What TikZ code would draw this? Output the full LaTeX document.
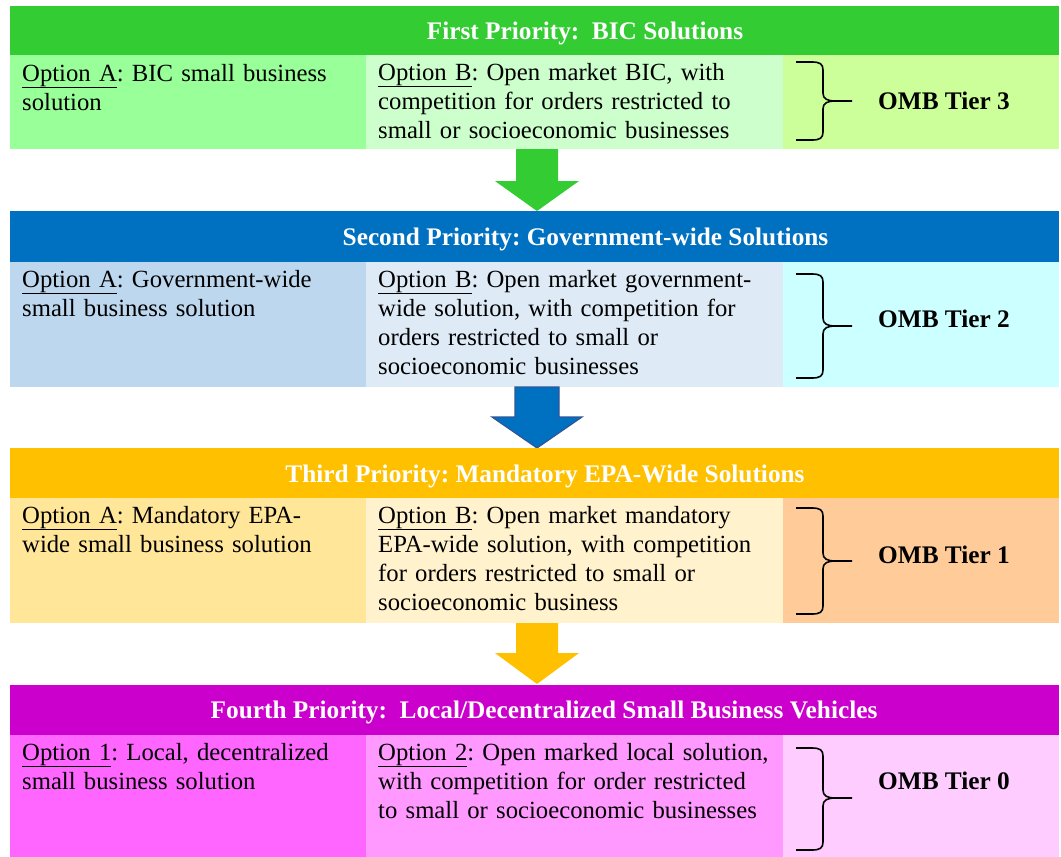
\documentclass[tikz,border=0pt]{standalone}
\usepackage{fontspec}
\setmainfont{Liberation Serif}
\frenchspacing
\definecolor{hA}{HTML}{33CC33}\definecolor{lA}{HTML}{99FF99}\definecolor{mA}{HTML}{CCFFCC}\definecolor{rA}{HTML}{CCFF99}
\definecolor{hB}{HTML}{0070C0}\definecolor{lB}{HTML}{BDD7EE}\definecolor{mB}{HTML}{DEEBF7}\definecolor{rB}{HTML}{CCFFFF}
\definecolor{hC}{HTML}{FFC000}\definecolor{lC}{HTML}{FFE699}\definecolor{mC}{HTML}{FFF2CC}\definecolor{rC}{HTML}{FFCC99}
\definecolor{hD}{HTML}{CC00CC}\definecolor{lD}{HTML}{FF66FF}\definecolor{mD}{HTML}{FF99FF}\definecolor{rD}{HTML}{FFCCFF}
\definecolor{arrB}{HTML}{2F5597}
\newcommand\mybrace[3]{%
  \draw[bracestyle] (796,#1) -- (812,#1) .. controls (820,#1) and (823,#1+2) .. (823,#1+8) -- (823,#3-8) .. controls (823,#3-2) and (827,#3) .. (836,#3) -- (852,#3);
  \draw[bracestyle] (836,#3) .. controls (827,#3) and (823,#3+2) .. (823,#3+8) -- (823,#2-8) .. controls (823,#2-2) and (820,#2) .. (812,#2) -- (796,#2);}
\newcommand\opt[1]{\underline{#1}}
\tikzset{
  head/.style={text=white, font=\fontsize{25.3}{29}\selectfont\bfseries, anchor=base, inner sep=0pt},
  body/.style={font=\fontsize{24.7}{29}\selectfont, anchor=base west, inner sep=0pt, align=left, text width=470pt},
  tier/.style={font=\fontsize{25.3}{29}\selectfont\bfseries, anchor=base west, inner sep=0pt},
  bracestyle/.style={line width=1.6pt, black},
}
\begin{document}
\begin{tikzpicture}[x=1pt,y=-1pt]
\useasboundingbox (0,0) rectangle (1061,857);
% Block 1
\fill[hA] (10,6) rectangle (1059,55);
\fill[lA] (10,55) rectangle (366,149);
\fill[mA] (366,55) rectangle (783,149);
\fill[rA] (783,55) rectangle (1059,149);
\node[head] (h1) at (585,39) {First Priority:\ \ BIC Solutions};
\node[body] (a1) at (22,81) {\opt{Option A}: BIC small business\\solution};
\node[body] (b1) at (378,80) {\opt{Option B}: Open market BIC, with\\competition for orders restricted to\\small or socioeconomic businesses};
\mybrace{62}{140}{101}
\node[tier] (t1) at (878,109) {OMB Tier 3};
% Arrow 1
\fill[hA] (516,149) -- (558,149) -- (558,181) -- (579,181) -- (537,211) -- (495,181) -- (516,181) -- cycle;
% Block 2
\fill[hB] (10,211) rectangle (1059,262);
\fill[lB] (10,262) rectangle (366,387);
\fill[mB] (366,262) rectangle (783,387);
\fill[rB] (783,262) rectangle (1059,387);
\node[head] (h2) at (585.5,245) {Second Priority: Government-wide Solutions};
\node[body] (a2) at (22,287) {\opt{Option A}: Government-wide\\small business solution};
\node[body] (b2) at (378,287) {\opt{Option B}: Open market government-\\wide solution, with competition for\\orders restricted to small or\\socioeconomic businesses};
\mybrace{274}{378}{326}
\node[tier] (t2) at (878,327) {OMB Tier 2};
% Arrow 2
\filldraw[fill=hB, draw=arrB, line width=1.2pt, line join=miter] (515,387) -- (559,387) -- (559,417) -- (582,417) -- (537,448) -- (492,417) -- (515,417) -- cycle;
% Block 3
\fill[hC] (10,448) rectangle (1059,498);
\fill[lC] (10,498) rectangle (366,623);
\fill[mC] (366,498) rectangle (783,623);
\fill[rC] (783,498) rectangle (1059,623);
\node[head] (h3) at (545,482) {Third Priority: Mandatory EPA-Wide Solutions};
\node[body] (a3) at (22,523) {\opt{Option A}: Mandatory EPA-\\wide small business solution};
\node[body] (b3) at (378,523) {\opt{Option B}: Open market mandatory\\EPA-wide solution, with competition\\for orders restricted to small or\\socioeconomic business};
\mybrace{508}{614}{561}
\node[tier] (t3) at (878,563) {OMB Tier 1};
% Arrow 3
\fill[hC] (516,623) -- (558,623) -- (558,653) -- (579,653) -- (537,684) -- (495,653) -- (516,653) -- cycle;
% Block 4
\fill[hD] (10,685) rectangle (1059,735);
\fill[lD] (10,735) rectangle (366,857);
\fill[mD] (366,735) rectangle (783,857);
\fill[rD] (783,735) rectangle (1059,857);
\node[head] (h4) at (544,718) {Fourth Priority:\ \ Local/Decentralized Small Business Vehicles};
\node[body] (a4) at (22,760) {\opt{Option 1}: Local, decentralized\\small business solution};
\node[body] (b4) at (378,760) {\opt{Option 2}: Open marked local solution,\\with competition for order restricted\\to small or socioeconomic businesses};
\mybrace{748}{850}{798}
\node[tier] (t4) at (878,789) {OMB Tier 0};
\end{tikzpicture}
\end{document}
